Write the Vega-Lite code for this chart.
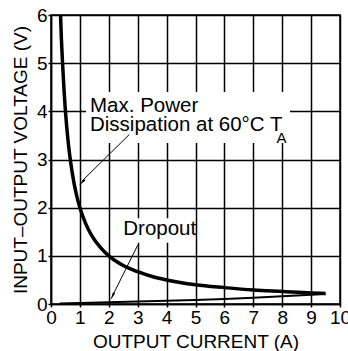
{
  "$schema": "https://vega.github.io/schema/vega-lite/v6.json",
  "width": 289,
  "height": 289,
  "autosize": {"type": "none"},
  "padding": {"left": 51, "top": 15, "right": 8, "bottom": 47},
  "background": "white",
  "config": {
    "font": "Liberation Sans",
    "view": {"stroke": "black", "strokeWidth": 1.5},
    "axis": {
      "domainColor": "black", "domainWidth": 1.5,
      "gridColor": "black", "gridWidth": 1.5, "gridOpacity": 1,
      "tickColor": "black", "tickSize": 3, "tickWidth": 1.5,
      "labelColor": "black", "titleColor": "black",
      "labelFontSize": 19, "titleFontSize": 19, "titleFontWeight": "normal",
      "labelFont": "Liberation Sans", "titleFont": "Liberation Sans",
      "labelOverlap": false, "labelBound": false, "labelFlush": false
    }
  },
  "encoding": {
    "x": {
      "field": "x", "type": "quantitative",
      "scale": {"domain": [0, 10], "nice": false},
      "axis": {"title": "OUTPUT CURRENT (A)", "values": [0,1,2,3,4,5,6,7,8,9,10], "labelPadding": 1, "titlePadding": 5, "grid": true}
    },
    "y": {
      "field": "y", "type": "quantitative",
      "scale": {"domain": [0, 6], "nice": false},
      "axis": {"title": "INPUT–OUTPUT VOLTAGE (V)", "values": [0,1,2,3,4,5,6], "labelPadding": 1, "titlePadding": 6, "grid": true}
    }
  },
  "layer": [
    {
      "data": {"values": [
        {"x": 1.21, "x2": 8.27, "y": 3.34, "y2": 4.4},
        {"x": 2.39, "x2": 4.95, "y": 1.27, "y2": 1.78}
      ]},
      "mark": {"type": "rect", "fill": "white", "stroke": null},
      "encoding": {"x2": {"field": "x2"}, "y2": {"field": "y2"}}
    },
    {
      "data": {"values": [
        {"x": 0.33, "y": 6.0}, {"x": 0.36, "y": 5.5}, {"x": 0.4, "y": 5.0}, {"x": 0.45, "y": 4.45},
        {"x": 0.5, "y": 4.0}, {"x": 0.6, "y": 3.33}, {"x": 0.7, "y": 2.86}, {"x": 0.8, "y": 2.5},
        {"x": 0.9, "y": 2.22}, {"x": 1.0, "y": 2.0}, {"x": 1.2, "y": 1.67}, {"x": 1.4, "y": 1.43},
        {"x": 1.7, "y": 1.18}, {"x": 2.0, "y": 1.0}, {"x": 2.5, "y": 0.8}, {"x": 3.0, "y": 0.67},
        {"x": 3.5, "y": 0.57}, {"x": 4.0, "y": 0.5}, {"x": 5.0, "y": 0.4}, {"x": 6.0, "y": 0.34},
        {"x": 7.0, "y": 0.29}, {"x": 8.0, "y": 0.26}, {"x": 9.0, "y": 0.23}, {"x": 9.5, "y": 0.22}
      ]},
      "mark": {"type": "line", "color": "black", "strokeWidth": 3.5, "interpolate": "monotone"}
    },
    {
      "data": {"values": [
        {"x": 0.3, "y": 0.01}, {"x": 1.0, "y": 0.02}, {"x": 2.0, "y": 0.035}, {"x": 3.0, "y": 0.05},
        {"x": 4.0, "y": 0.065}, {"x": 5.0, "y": 0.085}, {"x": 6.0, "y": 0.105}, {"x": 7.0, "y": 0.13},
        {"x": 8.0, "y": 0.16}, {"x": 9.0, "y": 0.19}, {"x": 9.5, "y": 0.21}
      ]},
      "mark": {"type": "line", "color": "black", "strokeWidth": 2}
    },
    {
      "data": {"values": [
        {"x": 2.71, "y": 3.52, "x2": 1.07, "y2": 2.55},
        {"x": 3.0, "y": 1.22, "x2": 2.12, "y2": 0.16}
      ]},
      "mark": {"type": "rule", "color": "black", "strokeWidth": 1},
      "encoding": {"x2": {"field": "x2"}, "y2": {"field": "y2"}}
    },
    {
      "data": {"values": [{"x": 1.1, "y": 2.54}]},
      "mark": {"type": "point", "shape": "wedge", "angle": 225, "size": 90, "filled": true, "color": "black", "opacity": 1}
    },
    {
      "data": {"values": [{"x": 2.14, "y": 0.18}]},
      "mark": {"type": "point", "shape": "wedge", "angle": 206, "size": 90, "filled": true, "color": "black", "opacity": 1}
    },
    {
      "data": {"values": [
        {"x": 1.35, "y": 3.99, "label": "Max. Power"},
        {"x": 1.35, "y": 3.59, "label": "Dissipation at 60°C T"},
        {"x": 2.5, "y": 1.43, "label": "Dropout"}
      ]},
      "mark": {"type": "text", "align": "left", "baseline": "alphabetic", "fontSize": 20.5, "color": "black", "font": "Liberation Sans"},
      "encoding": {"text": {"field": "label"}}
    },
    {
      "data": {"values": [{"x": 7.8, "y": 3.35, "label": "A"}]},
      "mark": {"type": "text", "align": "left", "baseline": "alphabetic", "fontSize": 15, "color": "black", "font": "Liberation Sans"},
      "encoding": {"text": {"field": "label"}}
    }
  ]
}
